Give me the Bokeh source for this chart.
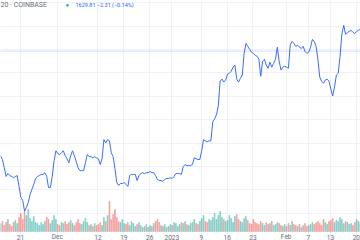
from bokeh.plotting import figure
from bokeh.models import Range1d, FixedTicker, Span, Label
from bokeh.embed import file_html
from bokeh.resources import INLINE

# ---- data -------------------------------------------------------------
# time axis: days since 2022-11-01, one sample every 12 hours
start_day = 14.6
step_days = 0.5

price = [1272, 1259, 1231, 1201, 1211, 1204, 1201, 1197, 1201, 1204,
         1167, 1129, 1119, 1082, 1095, 1112, 1140, 1157, 1174, 1194,
         1201, 1204, 1208, 1208, 1214, 1201, 1163, 1163, 1201, 1255,
         1289, 1279, 1276, 1282, 1289, 1272, 1262, 1248, 1272, 1289,
         1272, 1252, 1231, 1221, 1221, 1221, 1248, 1276, 1269, 1269,
         1265, 1269, 1265, 1262, 1242, 1262, 1327, 1316, 1327, 1323,
         1282, 1269, 1228, 1180, 1170, 1177, 1177, 1180, 1174, 1167,
         1204, 1208, 1208, 1208, 1187, 1204, 1211, 1214, 1211, 1214,
         1214, 1218, 1214, 1214, 1204, 1191, 1187, 1187, 1184, 1191,
         1194, 1194, 1197, 1194, 1201, 1211, 1211, 1211, 1208, 1235,
         1242, 1238, 1238, 1238, 1242, 1265, 1262, 1259, 1259, 1289,
         1327, 1323, 1320, 1323, 1323, 1388, 1398, 1412, 1442, 1527,
         1534, 1524, 1531, 1551, 1554, 1561, 1575, 1582, 1534, 1524,
         1537, 1548, 1622, 1656, 1646, 1636, 1626, 1622, 1616, 1612,
         1602, 1544, 1595, 1602, 1582, 1571, 1592, 1575, 1588, 1602,
         1643, 1595, 1565, 1575, 1578, 1575, 1571, 1650, 1663, 1656,
         1646, 1650, 1643, 1639, 1646, 1629, 1622, 1626, 1643, 1670,
         1663, 1646, 1602, 1541, 1527, 1520, 1531, 1534, 1527, 1500,
         1476, 1507, 1548, 1554, 1612, 1690, 1718, 1687, 1694, 1697,
         1701, 1694, 1690, 1697, 1701, 1704]

volume = [8, 10, 6, 9, 12, 7, 5, 9, 11, 8,
          14, 18, 12, 20, 16, 22, 13, 10, 15, 9,
          8, 6, 9, 7, 10, 14, 12, 8, 11, 16,
          12, 7, 6, 9, 8, 10, 7, 9, 11, 8,
          6, 9, 12, 8, 7, 10, 13, 9, 6, 7,
          5, 8, 6, 7, 9, 6, 14, 10, 16, 30,
          12, 17, 22, 14, 10, 9, 12, 8, 7, 9,
          6, 10, 8, 5, 7, 9, 6, 4, 5, 7,
          4, 6, 5, 8, 10, 12, 9, 6, 5, 7,
          4, 5, 7, 6, 9, 8, 5, 7, 9, 8,
          10, 7, 6, 8, 9, 12, 8, 7, 10, 13,
          16, 10, 9, 12, 11, 14, 18, 12, 16, 20,
          14, 12, 10, 11, 16, 13, 9, 15, 17, 12,
          10, 9, 13, 15, 11, 8, 7, 12, 9, 8,
          7, 10, 8, 6, 9, 7, 8, 10, 6, 7,
          9, 8, 6, 5, 7, 5, 8, 6, 10, 7,
          6, 5, 7, 4, 6, 8, 5, 6, 7, 9,
          7, 9, 10, 8, 6, 12, 9, 7, 10, 11,
          13, 9, 11, 10, 14, 12, 8, 10, 9, 7,
          8, 6, 9, 12, 10, 8]

tick_days = [20, 30, 41, 48, 55, 61, 69, 76, 83, 92, 98, 104, 111]
tick_labels = ["21", "Dec", "12", "19", "26", "2023", "9", "16", "23",
               "Feb", "7", "13", "20"]
price_grid = [1075, 1155, 1235, 1315, 1395, 1475, 1555, 1635, 1715, 1795]

last_price = 1629.81
header_left = "20 · COINBASE"
header_right = "1629.81  −2.31 (−0.14%)"

# ---- derived ----------------------------------------------------------
days = [start_day + i * step_days for i in range(len(price))]
vol_colors = ["#26a69a" if i == 0 or price[i] >= price[i - 1] else "#ef5350"
              for i in range(len(price))]

p = figure(width=360, height=240, output_backend="svg", toolbar_location=None,
           x_range=Range1d(14.58, 112.14), y_range=Range1d(982, 1803),
           min_border=0, min_border_left=0, min_border_right=0,
           min_border_top=0, min_border_bottom=0)
p.extra_y_ranges = {"vol": Range1d(-9, 231)}
p.outline_line_color = None
p.background_fill_color = "white"
p.border_fill_color = "white"

p.yaxis.visible = False
p.ygrid.ticker = FixedTicker(ticks=price_grid)
p.ygrid.grid_line_color = "#eef1f8"
p.xaxis.ticker = FixedTicker(ticks=tick_days)
p.xaxis.visible = False
p.xgrid.ticker = FixedTicker(ticks=tick_days)
p.xgrid.grid_line_color = "#eef1f8"

p.vbar(x=days, top=volume, width=0.24, color=vol_colors, alpha=0.35,
       y_range_name="vol")

p.add_layout(Span(location=last_price, dimension="width",
                  line_color="#2962ff", line_alpha=0.2, line_width=1))

p.line(days, price, line_color="#3a6cff", line_width=1)

for d, lbl in zip(tick_days, tick_labels):
    p.add_layout(Label(x=d, y=3.5, y_units="screen", text=lbl,
                       text_align="center", text_baseline="middle",
                       text_font_size="6.5px", text_font="Roboto",
                       text_color="#6a6f7a"))

p.add_layout(Label(x=0, y=1786, x_units="screen", text=header_left,
                   text_font_size="7px", text_color="#6a6f7a",
                   text_font="Roboto", text_baseline="middle"))
p.add_layout(Label(x=65, y=1786, x_units="screen", text="●",
                   text_font_size="6px", text_color="#22ab94",
                   text_baseline="middle"))
p.add_layout(Label(x=75, y=1786, x_units="screen", text=header_right,
                   text_font_size="5.5px", text_color="#2962ff",
                   text_font="Roboto", text_baseline="middle"))

open("out.html", "w").write(file_html(p, INLINE))
